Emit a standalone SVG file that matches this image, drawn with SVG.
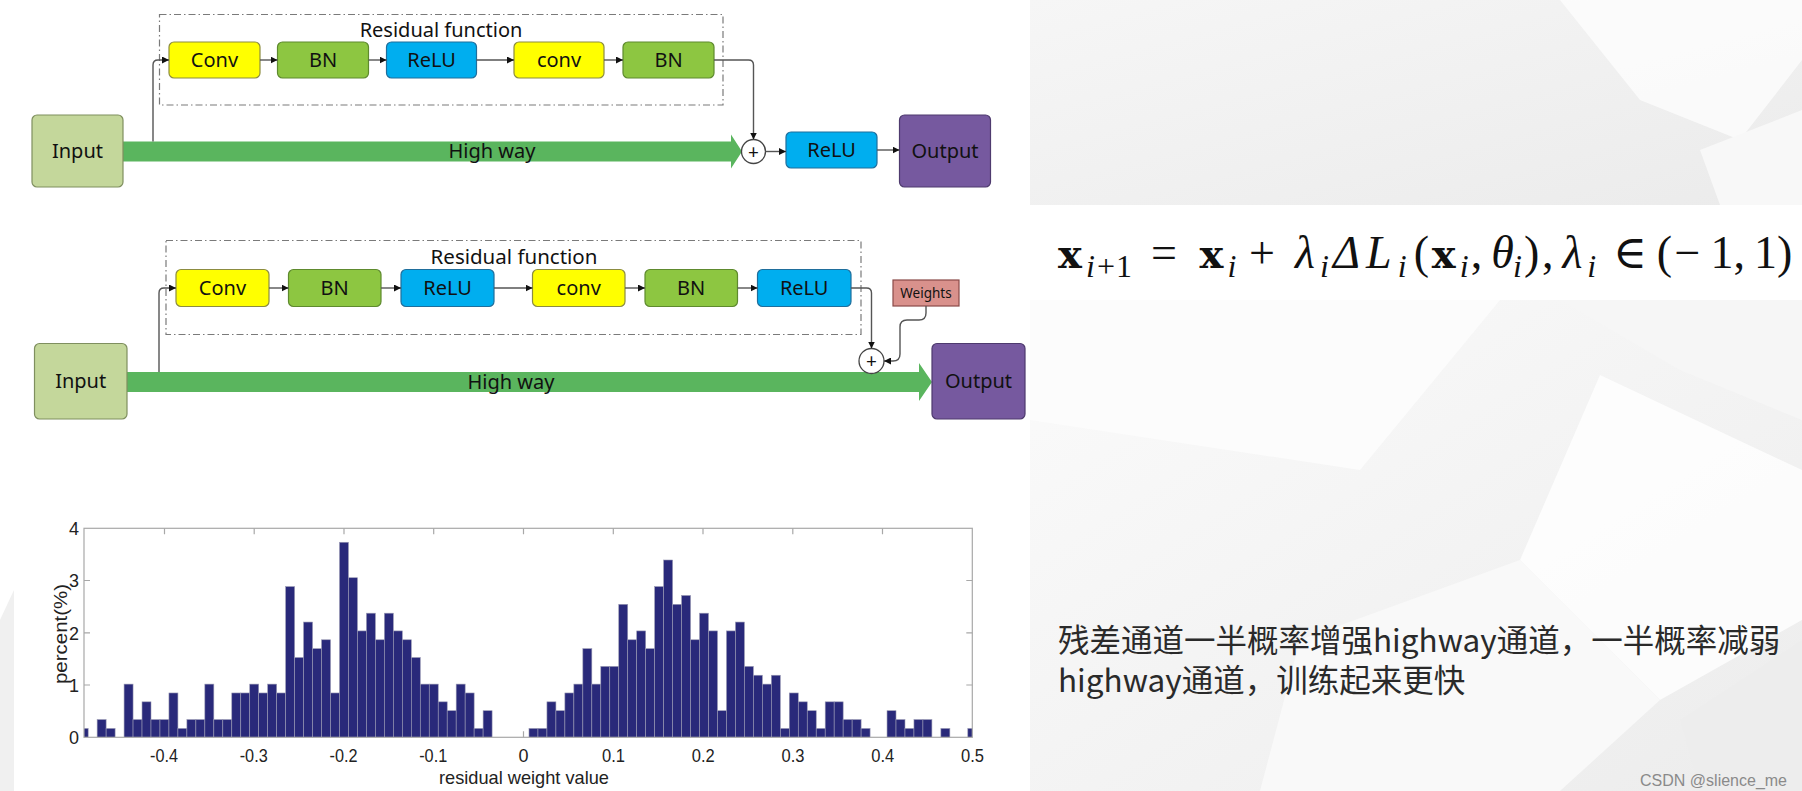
<svg xmlns="http://www.w3.org/2000/svg" width="1802" height="791" viewBox="0 0 1802 791">
<style>
.lbl{font-family:"Noto Sans","Open Sans",sans-serif;font-size:20px;fill:#111;text-anchor:middle}
.box{stroke-width:1.2}
.yel{fill:#ffff00;stroke:#8c8c40}
.grn{fill:#8dc641;stroke:#5e8a2e}
.blu{fill:#00aeef;stroke:#1f6e9c}
.inp{fill:#c4d79b;stroke:#7f8f5f}
.out{fill:#76599f;stroke:#4e3a6e}
.wts{fill:#d9918c;stroke:#8a4a48}
.dash{fill:none;stroke:#7a7a7a;stroke-width:1.2;stroke-dasharray:7 3 1.5 3}
.hw{fill:#5ab55e}
.con{fill:none;stroke:#555;stroke-width:1.4;marker-end:url(#ah)}
.sum{fill:#fff;stroke:#444;stroke-width:1.3}
.fm{font-family:"Liberation Serif","DejaVu Serif",serif;font-size:46px;fill:#111}
.bx{font-family:"DejaVu Serif",serif;font-weight:bold;font-size:40px}
.it{font-style:italic}
.sub{font-style:italic;font-size:32px}
.subr{font-size:32px}
.cn{font-family:"Noto Sans CJK SC","Noto Sans",sans-serif;font-size:31.5px;fill:#2a2a2a}
.tick{font-family:"Liberation Sans",Arial,sans-serif;font-size:19px;fill:#222}
.bars rect{fill:#29297a;stroke:#9a9ab4;stroke-width:0.6}
.ax{fill:none;stroke:#a8a8a8;stroke-width:1.2}
</style>
<defs>
<marker id="ah" viewBox="0 0 10 10" refX="10" refY="5" markerWidth="7" markerHeight="7" markerUnits="userSpaceOnUse" orient="auto">
<path d="M0,0 L10,5 L0,10 Z" fill="#111"/>
</marker>
<linearGradient id="bg1" x1="0" y1="0" x2="1" y2="1">
<stop offset="0" stop-color="#f6f6f6"/>
<stop offset="1" stop-color="#ebebeb"/>
</linearGradient>
<linearGradient id="bg2" x1="0" y1="0" x2="1" y2="1">
<stop offset="0" stop-color="#fbfbfb"/>
<stop offset="1" stop-color="#ececec"/>
</linearGradient>
<clipPath id="axclip"><rect x="84" y="528.3" width="888.3" height="209"/></clipPath>
</defs>

<!-- background -->
<g id="background">
<rect x="0" y="0" width="1802" height="791" fill="#ffffff"/>
<rect x="1030" y="0" width="772" height="205" fill="url(#bg1)"/>
<polygon points="1560,0 1802,0 1802,60 1740,140 1640,100" fill="#ffffff" opacity="0.7"/>
<polygon points="1700,150 1802,110 1802,205 1720,205" fill="#f8f8f8"/>
<rect x="1030" y="300" width="772" height="491" fill="url(#bg2)"/>
<polygon points="1030,300 1500,300 1360,470 1030,420" fill="#fcfcfc"/>
<polygon points="1560,300 1802,300 1802,420 1680,370" fill="#f6f6f6"/>
<polygon points="1600,375 1802,470 1802,620 1660,700 1520,560" fill="#ffffff" opacity="0.8"/>
<polygon points="1300,640 1520,560 1660,700 1560,791 1260,791" fill="#f9f9f9"/>
<polygon points="1680,720 1802,640 1802,791 1700,791" fill="#ededed"/>
<rect x="1035" y="205" width="767" height="95" fill="#ffffff"/>
<polygon points="0,620 14,590 14,791 0,791" fill="#f0f0f0"/>
</g>

<!-- Diagram 1 -->
<g id="d1-residual-box">
<rect class="dash" x="159.5" y="14.5" width="563.5" height="90.5"/>
<text class="lbl" x="441" y="37">Residual function</text>
</g>
<g id="d1-highway">
<path class="hw" d="M123,141.5 H731 V134.5 L742,151.5 L731,168.5 V161.5 H123 Z"/>
<text class="lbl" x="492" y="158">High way</text>
</g>
<g id="d1-input"><rect class="box inp" x="32" y="115" width="91" height="72" rx="5"/><text class="lbl" x="77.5" y="158">Input</text></g>
<g id="d1-conv1"><rect class="box yel" x="169" y="42" width="91" height="36" rx="5"/><text class="lbl" x="214.5" y="67">Conv</text></g>
<g id="d1-bn1"><rect class="box grn" x="277.5" y="42" width="91" height="36" rx="5"/><text class="lbl" x="323" y="67">BN</text></g>
<g id="d1-relu1"><rect class="box blu" x="386.5" y="42" width="90" height="36" rx="5"/><text class="lbl" x="431.5" y="67">ReLU</text></g>
<g id="d1-conv2"><rect class="box yel" x="514" y="42" width="90" height="36" rx="5"/><text class="lbl" x="559" y="67">conv</text></g>
<g id="d1-bn2"><rect class="box grn" x="623" y="42" width="91" height="36" rx="5"/><text class="lbl" x="668.5" y="67">BN</text></g>
<g id="d1-sum"><circle class="sum" cx="753.5" cy="151.5" r="12"/><text class="lbl" x="753.5" y="158.5" style="font-size:19px">+</text></g>
<g id="d1-relu2"><rect class="box blu" x="786" y="132" width="91" height="36" rx="5"/><text class="lbl" x="831.5" y="157">ReLU</text></g>
<g id="d1-output"><rect class="box out" x="899.5" y="115" width="91" height="72" rx="5"/><text class="lbl" x="945" y="158">Output</text></g>

<!-- Diagram 2 -->
<g id="d2-residual-box">
<rect class="dash" x="166" y="240.5" width="695" height="94"/>
<text class="lbl" x="514" y="264" style="font-size:20.5px">Residual function</text>
</g>
<g id="d2-highway">
<path class="hw" d="M127,372 H919 V363 L932,382 L919,401 V392 H127 Z"/>
<text class="lbl" x="511" y="389">High way</text>
</g>
<g id="d2-input"><rect class="box inp" x="34.5" y="343.5" width="92.5" height="75.5" rx="5"/><text class="lbl" x="80.7" y="388">Input</text></g>
<g id="d2-conv1"><rect class="box yel" x="176" y="269.5" width="93" height="37" rx="5"/><text class="lbl" x="222.5" y="295">Conv</text></g>
<g id="d2-bn1"><rect class="box grn" x="288.5" y="269.5" width="92.5" height="37" rx="5"/><text class="lbl" x="334.7" y="295">BN</text></g>
<g id="d2-relu1"><rect class="box blu" x="401" y="269.5" width="93" height="37" rx="5"/><text class="lbl" x="447.5" y="295">ReLU</text></g>
<g id="d2-conv2"><rect class="box yel" x="532.5" y="269.5" width="92.5" height="37" rx="5"/><text class="lbl" x="578.7" y="295">conv</text></g>
<g id="d2-bn2"><rect class="box grn" x="645" y="269.5" width="92.5" height="37" rx="5"/><text class="lbl" x="691.2" y="295">BN</text></g>
<g id="d2-relu2"><rect class="box blu" x="757.5" y="269.5" width="93.5" height="37" rx="5"/><text class="lbl" x="804.2" y="295">ReLU</text></g>
<g id="d2-weights"><rect class="box wts" x="893" y="280" width="66" height="26"/><text class="lbl" x="926" y="298" style="font-size:13.5px">Weights</text></g>
<g id="d2-sum"><circle class="sum" cx="871.5" cy="361" r="12.5"/><text class="lbl" x="871.5" y="368" style="font-size:19px">+</text></g>
<g id="d2-output"><rect class="box out" x="932" y="343.5" width="93" height="75.5" rx="5"/><text class="lbl" x="978.5" y="388">Output</text></g>

<!-- connectors -->
<g id="connectors">
<path class="con" d="M153,141.5 V65 Q153,60 158,60 H169"/>
<path class="con" d="M260,60 H277.5"/>
<path class="con" d="M368.5,60 H386.5"/>
<path class="con" d="M476.5,60 H514"/>
<path class="con" d="M604,60 H623"/>
<path class="con" d="M714,60 H748.5 Q753.5,60 753.5,65 V139.5"/>
<path class="con" d="M765.5,151.5 H786"/>
<path class="con" d="M877,150 H899.5"/>
<path class="con" d="M159,372 V293 Q159,288 164,288 H176"/>
<path class="con" d="M269,288 H288.5"/>
<path class="con" d="M381,288 H401"/>
<path class="con" d="M494,288 H532.5"/>
<path class="con" d="M625,288 H645"/>
<path class="con" d="M737.5,288 H757.5"/>
<path class="con" d="M851,288 H866.5 Q871.5,288 871.5,293 V348.5"/>
<path class="con" d="M926,306 V313 Q926,320 919,320 H907 Q900,320 900,327 V354 Q900,361 893,361 H884"/>
</g>

<!-- formula -->
<g id="formula">
<text class="fm" y="268"><tspan class="bx" x="1058">x</tspan><tspan class="sub" x="1086" y="277">i</tspan><tspan class="subr" x="1097" y="277">+</tspan><tspan class="subr" x="1116" y="277">1</tspan><tspan x="1150.9" y="268">=</tspan><tspan class="bx" x="1199.6">x</tspan><tspan class="sub" x="1227.6" y="277">i</tspan><tspan x="1248.9" y="268">+</tspan><tspan class="it" x="1295">λ</tspan><tspan class="sub" x="1320" y="277">i</tspan><tspan class="it" x="1332.9" y="268">Δ</tspan><tspan class="it" x="1366">L</tspan><tspan class="sub" x="1397.7" y="277">i</tspan><tspan x="1413.8" y="268">(</tspan><tspan class="bx" x="1431.7">x</tspan><tspan class="sub" x="1459.7" y="277">i</tspan><tspan x="1470.7" y="268">,</tspan><tspan class="it" x="1491.2">θ</tspan><tspan class="sub" x="1512.9" y="277">i</tspan><tspan x="1523.9" y="268">)</tspan><tspan x="1541.9">,</tspan><tspan class="it" x="1562.4">λ</tspan><tspan class="sub" x="1587.3" y="277">i</tspan><tspan x="1613.1" y="268">∈</tspan><tspan x="1656.7">(</tspan><tspan x="1674.6">−</tspan><tspan x="1710.5">1</tspan><tspan x="1733.6">,</tspan><tspan x="1754.1">1</tspan><tspan x="1777.1">)</tspan></text>
</g>

<!-- histogram -->
<g id="histogram">
<g class="bars" clip-path="url(#axclip)">
<rect x="79.19" y="728.43" width="8.98" height="8.87"/>
<rect x="97.14" y="719.57" width="8.98" height="17.73"/>
<rect x="106.12" y="728.43" width="8.98" height="8.87"/>
<rect x="124.07" y="684.11" width="8.98" height="53.19"/>
<rect x="133.05" y="719.57" width="8.98" height="17.73"/>
<rect x="142.02" y="701.84" width="8.98" height="35.46"/>
<rect x="151.00" y="719.57" width="8.98" height="17.73"/>
<rect x="159.97" y="719.57" width="8.98" height="17.73"/>
<rect x="168.95" y="692.97" width="8.98" height="44.33"/>
<rect x="177.93" y="728.43" width="8.98" height="8.87"/>
<rect x="186.90" y="719.57" width="8.98" height="17.73"/>
<rect x="195.88" y="719.57" width="8.98" height="17.73"/>
<rect x="204.85" y="684.11" width="8.98" height="53.19"/>
<rect x="213.83" y="719.57" width="8.98" height="17.73"/>
<rect x="222.81" y="719.57" width="8.98" height="17.73"/>
<rect x="231.78" y="692.97" width="8.98" height="44.33"/>
<rect x="240.76" y="692.97" width="8.98" height="44.33"/>
<rect x="249.73" y="684.11" width="8.98" height="53.19"/>
<rect x="258.71" y="692.97" width="8.98" height="44.33"/>
<rect x="267.69" y="684.11" width="8.98" height="53.19"/>
<rect x="276.66" y="692.97" width="8.98" height="44.33"/>
<rect x="285.64" y="586.59" width="8.98" height="150.71"/>
<rect x="294.61" y="657.51" width="8.98" height="79.79"/>
<rect x="303.59" y="622.05" width="8.98" height="115.25"/>
<rect x="312.57" y="648.65" width="8.98" height="88.65"/>
<rect x="321.54" y="639.78" width="8.98" height="97.52"/>
<rect x="330.52" y="692.97" width="8.98" height="44.33"/>
<rect x="339.49" y="542.27" width="8.98" height="195.03"/>
<rect x="348.47" y="577.73" width="8.98" height="159.57"/>
<rect x="357.45" y="630.92" width="8.98" height="106.38"/>
<rect x="366.42" y="613.19" width="8.98" height="124.11"/>
<rect x="375.40" y="639.78" width="8.98" height="97.52"/>
<rect x="384.37" y="613.19" width="8.98" height="124.11"/>
<rect x="393.35" y="630.92" width="8.98" height="106.38"/>
<rect x="402.33" y="639.78" width="8.98" height="97.52"/>
<rect x="411.30" y="657.51" width="8.98" height="79.79"/>
<rect x="420.28" y="684.11" width="8.98" height="53.19"/>
<rect x="429.25" y="684.11" width="8.98" height="53.19"/>
<rect x="438.23" y="701.84" width="8.98" height="35.46"/>
<rect x="447.21" y="710.70" width="8.98" height="26.60"/>
<rect x="456.18" y="684.11" width="8.98" height="53.19"/>
<rect x="465.16" y="692.97" width="8.98" height="44.33"/>
<rect x="474.13" y="728.43" width="8.98" height="8.87"/>
<rect x="483.11" y="710.70" width="8.98" height="26.60"/>
<rect x="528.99" y="728.43" width="8.98" height="8.87"/>
<rect x="537.97" y="728.43" width="8.98" height="8.87"/>
<rect x="546.94" y="701.84" width="8.98" height="35.46"/>
<rect x="555.92" y="710.70" width="8.98" height="26.60"/>
<rect x="564.89" y="692.97" width="8.98" height="44.33"/>
<rect x="573.87" y="684.11" width="8.98" height="53.19"/>
<rect x="582.85" y="648.65" width="8.98" height="88.65"/>
<rect x="591.82" y="684.11" width="8.98" height="53.19"/>
<rect x="600.80" y="666.38" width="8.98" height="70.92"/>
<rect x="609.77" y="666.38" width="8.98" height="70.92"/>
<rect x="618.75" y="604.32" width="8.98" height="132.98"/>
<rect x="627.73" y="639.78" width="8.98" height="97.52"/>
<rect x="636.70" y="630.92" width="8.98" height="106.38"/>
<rect x="645.68" y="648.65" width="8.98" height="88.65"/>
<rect x="654.65" y="586.59" width="8.98" height="150.71"/>
<rect x="663.63" y="560.00" width="8.98" height="177.30"/>
<rect x="672.61" y="604.32" width="8.98" height="132.98"/>
<rect x="681.58" y="595.46" width="8.98" height="141.84"/>
<rect x="690.56" y="639.78" width="8.98" height="97.52"/>
<rect x="699.53" y="613.19" width="8.98" height="124.11"/>
<rect x="708.51" y="630.92" width="8.98" height="106.38"/>
<rect x="717.49" y="710.70" width="8.98" height="26.60"/>
<rect x="726.46" y="630.92" width="8.98" height="106.38"/>
<rect x="735.44" y="622.05" width="8.98" height="115.25"/>
<rect x="744.41" y="666.38" width="8.98" height="70.92"/>
<rect x="753.39" y="675.24" width="8.98" height="62.06"/>
<rect x="762.37" y="684.11" width="8.98" height="53.19"/>
<rect x="771.34" y="675.24" width="8.98" height="62.06"/>
<rect x="780.32" y="728.43" width="8.98" height="8.87"/>
<rect x="789.29" y="692.97" width="8.98" height="44.33"/>
<rect x="798.27" y="701.84" width="8.98" height="35.46"/>
<rect x="807.25" y="710.70" width="8.98" height="26.60"/>
<rect x="816.22" y="728.43" width="8.98" height="8.87"/>
<rect x="825.20" y="701.84" width="8.98" height="35.46"/>
<rect x="834.17" y="701.84" width="8.98" height="35.46"/>
<rect x="843.15" y="719.57" width="8.98" height="17.73"/>
<rect x="852.13" y="719.57" width="8.98" height="17.73"/>
<rect x="861.10" y="728.43" width="8.98" height="8.87"/>
<rect x="887.03" y="710.70" width="8.98" height="26.60"/>
<rect x="896.01" y="719.57" width="8.98" height="17.73"/>
<rect x="904.98" y="728.43" width="8.98" height="8.87"/>
<rect x="913.96" y="719.57" width="8.98" height="17.73"/>
<rect x="922.93" y="719.57" width="8.98" height="17.73"/>
<rect x="940.89" y="728.43" width="8.98" height="8.87"/>
<rect x="967.81" y="728.43" width="8.98" height="8.87"/>
</g>
<rect class="ax" x="84" y="528.3" width="888.3" height="209"/>
<path class="ax" d="M164.5,528.3 v6 M254.2,528.3 v6 M344,528.3 v6 M433.7,528.3 v6 M523.5,528.3 v6 M613.3,528.3 v6 M703,528.3 v6 M792.8,528.3 v6 M882.5,528.3 v6 M523.5,737.3 v-6 M972.3,685 h-6 M972.3,632.8 h-6 M972.3,580.5 h-6 M84,685 h6 M84,632.8 h6 M84,580.5 h6"/>
<g class="tick" text-anchor="end">
<text x="79" y="744" textLength="10" lengthAdjust="spacingAndGlyphs">0</text>
<text x="79" y="691.7" textLength="10" lengthAdjust="spacingAndGlyphs">1</text>
<text x="79" y="639.5" textLength="10" lengthAdjust="spacingAndGlyphs">2</text>
<text x="79" y="587.2" textLength="10" lengthAdjust="spacingAndGlyphs">3</text>
<text x="79" y="535" textLength="10" lengthAdjust="spacingAndGlyphs">4</text>
</g>
<g class="tick">
<text x="150" y="762" textLength="28" lengthAdjust="spacingAndGlyphs">-0.4</text>
<text x="239.7" y="762" textLength="28" lengthAdjust="spacingAndGlyphs">-0.3</text>
<text x="329.5" y="762" textLength="28" lengthAdjust="spacingAndGlyphs">-0.2</text>
<text x="419.2" y="762" textLength="28" lengthAdjust="spacingAndGlyphs">-0.1</text>
<text x="518.5" y="762" textLength="10" lengthAdjust="spacingAndGlyphs">0</text>
<text x="602" y="762" textLength="23" lengthAdjust="spacingAndGlyphs">0.1</text>
<text x="691.7" y="762" textLength="23" lengthAdjust="spacingAndGlyphs">0.2</text>
<text x="781.5" y="762" textLength="23" lengthAdjust="spacingAndGlyphs">0.3</text>
<text x="871.2" y="762" textLength="23" lengthAdjust="spacingAndGlyphs">0.4</text>
<text x="961" y="762" textLength="23" lengthAdjust="spacingAndGlyphs">0.5</text>
<text x="439" y="784" textLength="170" lengthAdjust="spacingAndGlyphs">residual weight value</text>
<text x="0" y="0" transform="translate(67,684) rotate(-90)" textLength="100" lengthAdjust="spacingAndGlyphs">percent(%)</text>
</g>
</g>

<!-- notes -->
<g id="notes">
<text class="cn" x="1058" y="652"><tspan x="1058" y="652">残差通道一半概率增强highway通道，一半概率减弱</tspan><tspan x="1058" y="692">highway通道，训练起来更快</tspan></text>
<text x="1787" y="786" text-anchor="end" style="font-family:'Liberation Sans',Arial,sans-serif;font-size:16px;fill:#8a8a8a">CSDN @slience_me</text>
</g>
</svg>
